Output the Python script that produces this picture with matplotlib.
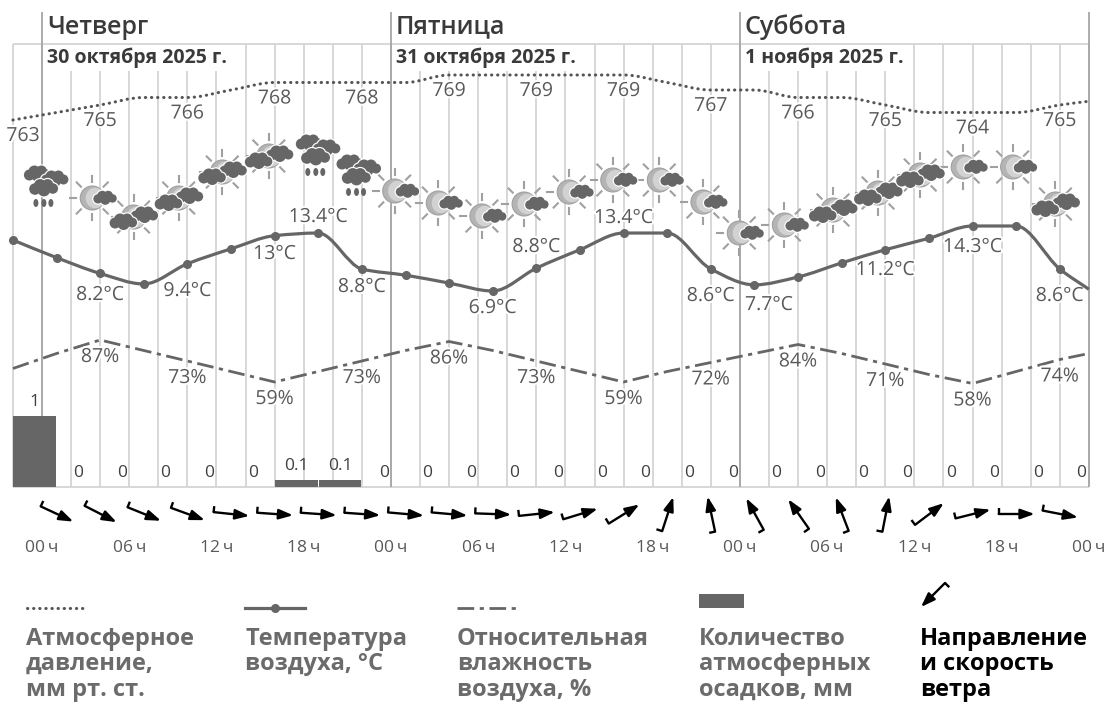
"""Three day weather chart, pressure, temperature, humidity, rain and wind.
"""

import numpy as np
import matplotlib
matplotlib.use('Agg')
import matplotlib.pyplot as plt
import matplotlib.patheffects as pe
from matplotlib.patches import Circle, Ellipse, PathPatch, Rectangle
from matplotlib.path import Path

plt.rcParams['font.family'] = ['Open Sans', 'Noto Sans', 'DejaVu Sans']

# Data, every series is three-hourly from hour -2
hours = np.arange(-2, 71, 3)
line_hours = np.append(hours, 72)

pressure = [763, 764, 765, 766, 766, 767, 768, 768, 768, 768, 769, 769, 769,
            769, 769, 768, 767, 767, 766, 766, 765, 764, 764, 764, 765, 765.5]
temperature = [12.7, 10.7, 8.9, 7.7, 10.0, 11.7, 13.2, 13.5, 9.4, 8.7, 7.8, 6.9,
               9.5, 11.6, 13.5, 13.5, 9.4, 7.6, 8.5, 10.1, 11.6, 12.9, 14.3,
               14.3, 9.4, 7.1]
humidity = [68, 78, 87, 80, 73, 66, 59, 66, 73, 80, 86, 80, 73, 66, 59, 66, 72,
            78, 84, 78, 71, 64, 58, 66, 74, 78]
rain = [1, 0, 0, 0, 0, 0, 0.1, 0.1, 0, 0, 0, 0, 0, 0, 0, 0, 0, 0, 0, 0, 0, 0,
        0, 0, 0]
rain_labels = ['1', '0', '0', '0', '0', '0', '0.1', '0.1', '0', '0', '0', '0',
               '0', '0', '0', '0', '0', '0', '0', '0', '0', '0', '0', '0', '0']

pressure_label_hours = [-1.3, 4, 10, 16, 22, 28, 34, 40, 46, 52, 58, 64, 70]
pressure_labels = ['763', '765', '766', '768', '768', '769', '769', '769',
                   '767', '766', '765', '764', '765']
pressure_label_values = [763, 765, 766, 768, 768, 769, 769, 769, 767, 766, 765,
                         764, 765]

temp_label_hours = [4, 10, 16, 19, 22, 31, 34, 40, 46, 50, 58, 64, 70]
temp_labels = ['8.2°C', '9.4°C', '13°C', '13.4°C', '8.8°C', '6.9°C', '8.8°C',
               '13.4°C', '8.6°C', '7.7°C', '11.2°C', '14.3°C', '8.6°C']
temp_label_rows = [295, 291, 254, 217, 287, 308, 247, 218, 296, 305, 270, 247,
                   296]

humidity_label_hours = [4, 10, 16, 22, 28, 34, 40, 46, 52, 58, 64, 70]
humidity_labels = ['87%', '73%', '59%', '73%', '86%', '73%', '59%', '72%',
                   '84%', '71%', '58%', '74%']
humidity_label_values = [87, 73, 59, 73, 86, 73, 59, 72, 84, 71, 58, 74]

wind_hours = np.arange(1, 71, 3)
wind_heading = [25, 27, 22, 20, 6, 4, 4, 4, 5, 5, 2, -6, -17, -32, -72, -102,
                -119, -125, -111, -79, -37, -14, 0, 11]

icon_hours = [0.2, 3.8, 6.3, 9.4, 12.4, 15.6, 18.9, 21.7, 24.6, 27.6, 30.6,
              33.5, 36.6, 39.6, 42.8, 45.8, 48.3, 51.4, 54.4, 57.5, 60.4, 63.7,
              67.1, 69.7]
icon_rows = [186, 198, 218, 199, 173, 157, 155, 175, 191, 203, 216, 204, 192,
             180, 180, 202, 233, 225, 211, 194, 176, 167, 167, 205]
icon_kinds = ['rain', 'one', 'two', 'two', 'two', 'two', 'rain', 'rain', 'one',
              'one', 'one', 'one', 'one', 'one', 'one', 'one', 'one', 'one',
              'two', 'two', 'two', 'one', 'one', 'two']

days = ['Четверг', 'Пятница', 'Суббота']
dates = ['30 октября 2025 г.', '31 октября 2025 г.', '1 ноября 2025 г.']
day_hours = [0, 24, 48, 72]
tick_hours = np.arange(0, 73, 6)
tick_labels = ['00', '06', '12', '18'] * 3 + ['00']

legend_titles = ['Атмосферное\nдавление,\nмм рт. ст.',
                 'Температура\nвоздуха, °C',
                 'Относительная\nвлажность\nвоздуха, %',
                 'Количество\nатмосферных\nосадков, мм',
                 'Направление\nи скорость\nветра']

GREY = '#666666'
TEXT = '#595959'
GRID = '#d4d4d4'
HOUR_PX = 14.54
HALO = [pe.withStroke(linewidth=3, foreground='white')]


def hx(h):
    return 42 + np.asarray(h, dtype=float) * HOUR_PX


def series_axes(value_a, row_a, value_b, row_b):
    # Full figure axes, with hours along x and a scale set by two known rows
    a = fig.add_axes([0, 0, 1, 1])
    a.patch.set_visible(False)
    a.axis('off')
    a.set_xlim(-42 / HOUR_PX, (1113 - 42) / HOUR_PX)
    slope = (value_b - value_a) / (row_b - row_a)
    a.set_ylim(value_a + (706 - row_a) * slope, value_a - row_a * slope)
    return a


def smooth_path(x, y):
    # Monotone cubic through the points, as a bezier path
    x, y = np.asarray(x, dtype=float), np.asarray(y, dtype=float)
    d = np.diff(y) / np.diff(x)
    m = np.zeros(len(x))
    for i in range(1, len(x) - 1):
        if d[i - 1] * d[i] > 0:
            m[i] = 2 * d[i - 1] * d[i] / (d[i - 1] + d[i])
    m[0], m[-1] = d[0], d[-1]
    verts = [(x[0], y[0])]
    codes = [Path.MOVETO]
    for i in range(len(x) - 1):
        dx = (x[i + 1] - x[i]) / 3
        verts += [(x[i] + dx, y[i] + m[i] * dx),
                  (x[i + 1] - dx, y[i + 1] - m[i + 1] * dx),
                  (x[i + 1], y[i + 1])]
        codes += [Path.CURVE4] * 3
    return Path(verts, codes)


def draw_cloud(a, x, y, s, z):
    bumps = [(-8.5, 1, 5.5), (-3.5, -2.5, 6), (3.5, -3, 5.5), (8.5, 0.5, 5),
             (0, 2, 6)]
    for bx, by, r in bumps:
        a.add_patch(Circle((x + bx * s, y + by * s), r * s + 1.2,
                           fc='white', ec='none', zorder=z))
    for bx, by, r in bumps:
        a.add_patch(Circle((x + bx * s, y + by * s), r * s,
                           fc=GREY, ec='none', zorder=z + 0.1))


def draw_sun(a, x, y, r):
    for ang in np.arange(0, 360, 45):
        c, s = np.cos(np.radians(ang)), np.sin(np.radians(ang))
        a.plot([x + c * (r + 4), x + c * (r + 10)],
               [y + s * (r + 4), y + s * (r + 10)],
               color='#a0a0a0', lw=1.5, zorder=4)
    a.add_patch(Circle((x, y), r, fc='#b4b4b4', ec='#a0a0a0', lw=0.8, zorder=4))
    a.add_patch(Ellipse((x + 3, y), r * 1.6, r * 1.7, fc='#d2d2d2', ec='none',
                        zorder=4.1))


def draw_icon(a, x, y, kind):
    if kind == 'rain':
        draw_cloud(a, x - 7, y - 12, 1.0, 5)
        draw_cloud(a, x + 10, y - 7, 1.0, 5.5)
        draw_cloud(a, x - 1, y + 2, 1.05, 6)
        for dx in (-9, -1, 6):
            a.add_patch(Ellipse((x + dx, y + 17), 5, 8, fc=GREY, ec='none',
                                zorder=6))
    elif kind == 'two':
        draw_sun(a, x, y - 1, 12)
        draw_cloud(a, x + 11, y - 3, 1.0, 5)
        draw_cloud(a, x - 10, y + 4, 1.0, 5.5)
    else:
        draw_sun(a, x - 5, y, 12)
        draw_cloud(a, x + 8, y, 0.85, 5)


def draw_wind(a, x, y, heading, length=36):
    c, s = np.cos(np.radians(heading)), np.sin(np.radians(heading))
    tail = (x - c * length / 2, y - s * length / 2)
    head = (x + c * length / 2, y + s * length / 2)
    a.annotate('', xy=head, xytext=tail,
               arrowprops=dict(arrowstyle='-|>,head_length=0.7,head_width=0.25',
                               color='black', lw=1.7, shrinkA=0, shrinkB=0,
                               mutation_scale=12), zorder=6)
    # Small barb at the tail, on the left of the flow
    a.plot([tail[0], tail[0] + s * 6], [tail[1], tail[1] - c * 6],
           color='black', lw=1.7, solid_capstyle='butt', zorder=6)


fig = plt.figure(figsize=(11.13, 7.06), dpi=100)

# Layout axes in picture pixels
ax = fig.add_axes([0, 0, 1, 1])
ax.set_xlim(0, 1113)
ax.set_ylim(706, 0)
ax.axis('off')

# Grid
grid_hours = np.arange(-2, 73, 2)
ax.vlines(hx(grid_hours), 44, 487, color=GRID, lw=1.3, zorder=1)
ax.vlines(hx(day_hours), 12, 487, color='#a6a6a6', lw=1.3, zorder=1.2)
ax.hlines([44, 487], hx(-2), hx(72), color=GRID, lw=1.3, zorder=1)

for h, day, date in zip(day_hours, days, dates):
    ax.text(hx(h) + 5, 27, day, fontsize=18, fontweight='semibold',
            color='#3a3a3a', va='center')
    ax.text(hx(h) + 5, 58, date, fontsize=14, fontweight='bold',
            color='#3a3a3a', va='center', zorder=3,
            bbox=dict(fc='white', ec='none', pad=2))

# Pressure
ax_press = series_axes(763, 120, 769, 75)
ax_press.add_patch(PathPatch(
    smooth_path(line_hours, pressure), fc='none', ec='#555555', lw=2.2,
    linestyle=(0, (0.1, 1.9)), capstyle='round'))
for h, v, t in zip(pressure_label_hours, pressure_label_values,
                   pressure_labels):
    ax_press.annotate(t, (h, v), xytext=(0, -16), textcoords='offset pixels',
                      fontsize=14, color=TEXT, ha='center', va='center',
                      path_effects=HALO)

# Temperature
ax_temp = series_axes(14.3, 226, 6.9, 291)
ax_temp.add_patch(PathPatch(smooth_path(line_hours, temperature), fc='none',
                            ec=GREY, lw=2.3))
ax_temp.plot(hours, temperature[:-1], 'o', color=GREY, ms=5.5)
for h, row, t in zip(temp_label_hours, temp_label_rows, temp_labels):
    ax.text(hx(h), row, t, fontsize=14, color=TEXT, ha='center', va='center',
            zorder=5, path_effects=HALO)

# Humidity
ax_hum = series_axes(59, 382, 87, 340)
ax_hum.plot(line_hours, humidity, color=GREY, lw=2,
            linestyle=(0, (6, 2, 1.5, 2)))
for h, v, t in zip(humidity_label_hours, humidity_label_values,
                   humidity_labels):
    ax_hum.annotate(t, (h, v), xytext=(0, -17), textcoords='offset pixels',
                    fontsize=14, color=TEXT, ha='center', va='center',
                    path_effects=HALO)

# Rain
ax_rain = series_axes(0, 487, 1, 416)
rain_x = hours + 1.5
rain_x[-1] = 71.5
rain_width = [2.94] * (len(hours) - 1) + [1.0]
ax_rain.bar(rain_x, rain, width=rain_width, color=GREY)
for h, v, t in zip(rain_x, rain, rain_labels):
    ax_rain.annotate(t, (h, v), xytext=(0, 14), textcoords='offset pixels',
                     fontsize=12.5, color='#3f3f3f', ha='center', va='center')

# Weather icons
for h, row, kind in zip(icon_hours, icon_rows, icon_kinds):
    draw_icon(ax, float(hx(h)), row, kind)

# Wind
for h, heading in zip(wind_hours, wind_heading):
    draw_wind(ax, float(hx(h)) + 0.5, 514, heading)

# Hour ticks
for h, t in zip(tick_hours, tick_labels):
    ax.text(hx(h), 548, t + '\u2009ч', fontsize=12.5, color=TEXT, ha='center',
            va='center')

# Legend
sw_y = 608
ax.plot([27, 85], [sw_y, sw_y], color='#555555', lw=2.2,
        linestyle=(0, (0.1, 1.9)), dash_capstyle='round')
ax.plot([245, 305], [sw_y, sw_y], color=GREY, lw=2.3)
ax.plot([275], [sw_y], 'o', color=GREY, ms=5.5)
ax.plot([457, 516], [sw_y, sw_y], color=GREY, lw=2,
        linestyle=(0, (6, 2, 1.5, 2)))
ax.add_patch(Rectangle((699, 594), 45, 14, fc=GREY, ec='none'))
draw_wind(ax, 933, 595, 135, length=34)

legend_x = [26, 245, 457, 699, 920]
legend_col = ['#6b6b6b', '#6b6b6b', '#6b6b6b', '#6b6b6b', 'black']
for x, title, col in zip(legend_x, legend_titles, legend_col):
    ax.text(x, 627, title, fontsize=17, fontweight='bold', color=col,
            va='top', linespacing=1.07)

fig.savefig('out.png', dpi=100)
